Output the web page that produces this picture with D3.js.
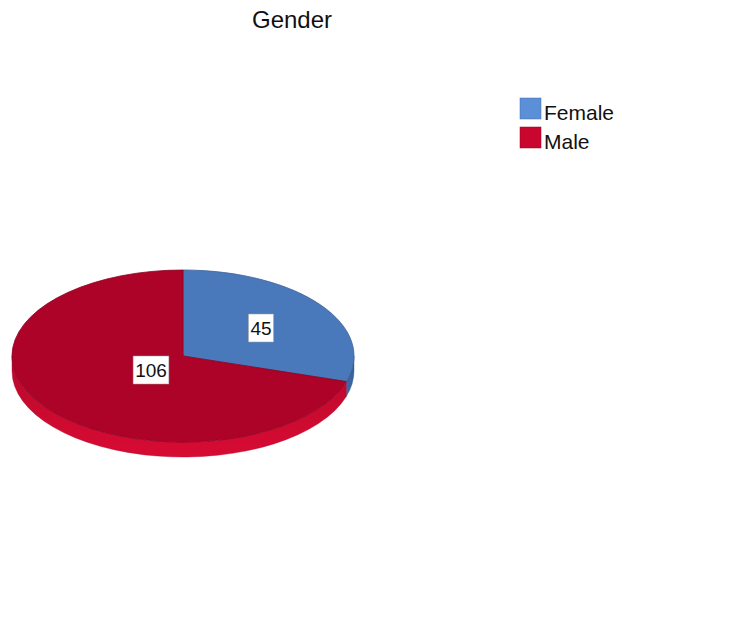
<!DOCTYPE html>
<html>
<head>
<meta charset="utf-8">
<script src="https://cdn.jsdelivr.net/npm/d3@7"></script>
<style>
  html, body { margin: 0; padding: 0; background: #ffffff; }
  svg { display: block; }
</style>
</head>
<body>
<script>
// Gender counts
const categories = ["Female", "Male"];
const counts = [45, 106];
const topColors = ["#4a79bb", "#ad0328"];
const sideColors = ["#3b64a3", "#cc0a30"];
const legendColors = ["#5b8fd8", "#c9062e"];

const W = 734, H = 636;
const cx = 183, cy = 356, rx = 171, ry = 86, depth = 15;
const FONT = "Arial, 'Liberation Sans', sans-serif";

const svg = d3.select("body").append("svg")
  .attr("width", W).attr("height", H);

// title
svg.append("text")
  .attr("x", 292).attr("y", 28)
  .attr("text-anchor", "middle")
  .attr("font-family", FONT)
  .attr("font-size", 24)
  .attr("fill", "#111")
  .text("Gender");

const data = categories.map((c, i) => ({ cat: c, value: counts[i], i }));
const arcs = d3.pie().sort(null).value(d => d.value)(data);

const defs = svg.append("defs");
sideColors.forEach((c, i) => {
  const g = defs.append("linearGradient")
    .attr("id", "side" + i).attr("x1", 0).attr("y1", 0).attr("x2", 0).attr("y2", 1);
  g.append("stop").attr("offset", "0%").attr("stop-color", d3.color(c).darker(0.35));
  g.append("stop").attr("offset", "60%").attr("stop-color", c);
  g.append("stop").attr("offset", "100%").attr("stop-color", d3.color(c).brighter(0.15));
});

const pt = (a, dy) => [cx + rx * Math.sin(a), cy - ry * Math.cos(a) + dy];

// side walls: only the front half of the rim (angles between π/2 and 3π/2) is visible
const sidePath = (a0, a1) => {
  const p0 = pt(a0, 0), p1 = pt(a1, 0), q1 = pt(a1, depth), q0 = pt(a0, depth);
  const large = (a1 - a0) > Math.PI ? 1 : 0;
  return `M${p0}A${rx},${ry} 0 ${large} 1 ${p1}L${q1}A${rx},${ry} 0 ${large} 0 ${q0}Z`;
};

const sides = svg.append("g");
arcs.forEach(a => {
  const a0 = Math.max(a.startAngle, Math.PI / 2);
  const a1 = Math.min(a.endAngle, 3 * Math.PI / 2);
  if (a1 > a0) {
    sides.append("path")
      .attr("d", sidePath(a0, a1))
      .attr("fill", `url(#side${a.data.i})`)
      .attr("stroke", d3.color(sideColors[a.data.i]).darker(0.5))
      .attr("stroke-width", 0.4);
  }
});

// top face: d3.arc circle squashed vertically into an ellipse
const arcGen = d3.arc().innerRadius(0).outerRadius(rx);
const faceG = svg.append("g")
  .attr("transform", `translate(${cx},${cy}) scale(1,${ry / rx})`);
faceG.selectAll("path").data(arcs).join("path")
  .attr("d", arcGen)
  .attr("fill", d => topColors[d.data.i])
  .attr("stroke", d => d3.color(topColors[d.data.i]).darker(0.6))
  .attr("stroke-width", 0.8)
  .attr("vector-effect", "non-scaling-stroke");

// value labels
const labelPos = [[261, 328], [151, 370]];
const labels = svg.append("g")
  .attr("font-family", FONT)
  .attr("font-size", 19);
arcs.forEach((a, k) => {
  const [lx, ly] = labelPos[k];
  const txt = String(a.data.value);
  const w = txt.length * 10.6 + 4, h = 28;
  labels.append("rect")
    .attr("x", lx - w / 2).attr("y", ly - h / 2)
    .attr("width", w).attr("height", h)
    .attr("fill", "#ffffff")
    .attr("stroke", "#9a9a9a").attr("stroke-width", 0.5);
  labels.append("text")
    .attr("x", lx).attr("y", ly + 7)
    .attr("text-anchor", "middle")
    .attr("fill", "#111")
    .text(txt);
});

// legend
const legend = svg.append("g")
  .attr("font-family", FONT)
  .attr("font-size", 21);
categories.forEach((c, i) => {
  const y = 98 + i * 29;
  legend.append("rect")
    .attr("x", 520).attr("y", y)
    .attr("width", 21).attr("height", 21)
    .attr("fill", legendColors[i])
    .attr("stroke", d3.color(legendColors[i]).darker(0.8)).attr("stroke-width", 0.5);
  legend.append("text")
    .attr("x", 544).attr("y", y + 22)
    .attr("fill", "#111")
    .text(c);
});
</script>
</body>
</html>
